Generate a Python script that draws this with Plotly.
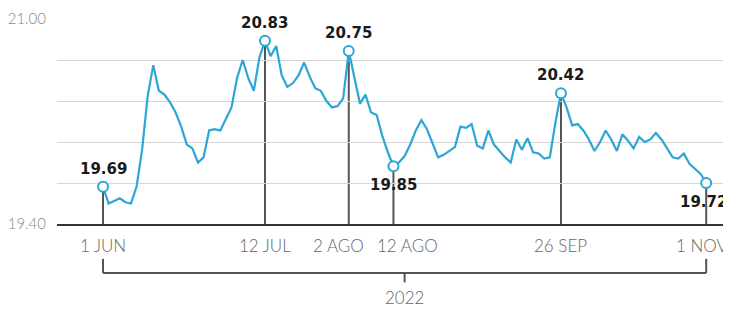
import pandas as pd
import plotly.graph_objects as go

# USD/MXN daily rate (business days, 16 SEP holiday excluded)
dates = [d.strftime("%Y-%m-%d") for d in pd.bdate_range("2022-06-01", "2022-11-01")
         if d.strftime("%Y-%m-%d") != "2022-09-16"]
values = [19.69, 19.56, 19.58, 19.60, 19.57, 19.56, 19.69, 19.98, 20.40, 20.64,
          20.44, 20.41, 20.35, 20.27, 20.16, 20.02, 19.99, 19.88, 19.92, 20.13,
          20.14, 20.13, 20.22, 20.31, 20.54, 20.68, 20.54, 20.44, 20.70, 20.83,
          20.71, 20.79, 20.56, 20.47, 20.50, 20.56, 20.66, 20.55, 20.46, 20.44,
          20.36, 20.31, 20.32, 20.38, 20.75, 20.53, 20.34, 20.41, 20.27, 20.25,
          20.09, 19.96, 19.85, 19.88, 19.93, 20.02, 20.13, 20.21, 20.14, 20.03,
          19.92, 19.94, 19.97, 20.00, 20.16, 20.15, 20.18, 20.01, 19.99, 20.13,
          20.02, 19.97, 19.92, 19.88, 20.06, 19.98, 20.07, 19.96, 19.95, 19.91,
          19.92, 20.19, 20.42, 20.31, 20.17, 20.18, 20.13, 20.06, 19.97, 20.04,
          20.13, 20.06, 19.97, 20.10, 20.05, 19.99, 20.08, 20.04, 20.06, 20.11,
          20.06, 19.99, 19.92, 19.91, 19.95, 19.87, 19.83, 19.79, 19.72]

highlight_dates = ["2022-06-01", "2022-07-12", "2022-08-02", "2022-08-12", "2022-09-26", "2022-11-01"]
highlight_pos = ["above", "above", "above", "below", "above", "below"]
label_nudge = [0, 0, 0, 0, 0, -3]
tick_labels = ["1 JUN", "12 JUL", "2 AGO", "12 AGO", "26 SEP", "1 NOV"]
tick_nudge = [0, 0, -10, 14, 0, -4]
y_ticks = [19.40, 19.72, 20.04, 20.36, 20.68, 21.00]
y_ticktext = ["19.40", "", "", "", "", "21.00"]
year_label = "2022"

LINE = "#2ba6d6"
DARK = "#555555"

hi_idx = [dates.index(d) for d in highlight_dates]
hi_vals = [values[i] for i in hi_idx]

fig = go.Figure()
fig.add_trace(go.Scatter(x=dates, y=values, mode="lines",
                         line=dict(color=LINE, width=2.2), hoverinfo="skip"))
fig.add_trace(go.Scatter(x=highlight_dates, y=hi_vals, mode="markers",
                         marker=dict(size=10, color="white", line=dict(color=LINE, width=2)),
                         cliponaxis=False, hoverinfo="skip"))

shapes = []
for i, v in zip(hi_idx, hi_vals):
    shapes.append(dict(type="line", xref="x", yref="y", x0=i, x1=i, y0=y_ticks[0], y1=v,
                       line=dict(color=DARK, width=2), layer="below"))
first, last = hi_idx[0], hi_idx[-1]
mid = (first + last) / 2
shapes += [
    dict(type="line", xref="x", yref="paper", x0=first, x1=last, y0=-0.239, y1=-0.239,
         line=dict(color=DARK, width=2)),
    dict(type="line", xref="x", yref="paper", x0=first, x1=first, y0=-0.239, y1=-0.17,
         line=dict(color=DARK, width=2)),
    dict(type="line", xref="x", yref="paper", x0=last, x1=last, y0=-0.239, y1=-0.17,
         line=dict(color=DARK, width=2)),
    dict(type="line", xref="x", yref="paper", x0=mid, x1=mid, y0=-0.239, y1=-0.285,
         line=dict(color=DARK, width=2)),
]

annotations = []
for i, v, pos, dx in zip(hi_idx, hi_vals, highlight_pos, label_nudge):
    annotations.append(dict(x=i, y=v, xref="x", yref="y", text=f"{v:.2f}", showarrow=False,
                            yshift=18 if pos == "above" else -19, xshift=dx,
                            font=dict(family="DejaVu Sans", size=15, color="#1a1a1a", weight="bold")))
for i, lab, dx in zip(hi_idx, tick_labels, tick_nudge):
    annotations.append(dict(x=i, y=0, xref="x", yref="paper", text=lab, showarrow=False,
                            yanchor="top", yshift=-9, xshift=dx,
                            font=dict(family="Lato", size=17, color="#666666", weight=300)))
annotations.append(dict(x=mid, y=-0.36, xref="x", yref="paper", text=year_label, showarrow=False,
                        yanchor="middle",
                        font=dict(family="Lato", size=17, color="#666666", weight=300)))

# page body has an 8px margin: shift figure so plot area sits where the reference has it
fig.update_layout(
    width=723, height=301,
    margin=dict(l=49, r=0, t=11, b=85),
    paper_bgcolor="white", plot_bgcolor="white",
    showlegend=False,
    shapes=shapes, annotations=annotations,
    xaxis=dict(type="category", range=[-8.24, 112.44], showticklabels=False,
               showgrid=False, showline=True, linecolor="#333333",
               linewidth=2, ticks="", automargin=False),
    yaxis=dict(range=[19.40, 21.00], tickvals=y_ticks, ticktext=y_ticktext,
               showgrid=True, gridcolor="#d6d6d6", gridwidth=1, zeroline=False,
               ticks="", ticklabelstandoff=10, automargin=False,
               tickfont=dict(family="Lato", size=15, color="#888888", weight=300)),
)

fig.write_html("out.html")
